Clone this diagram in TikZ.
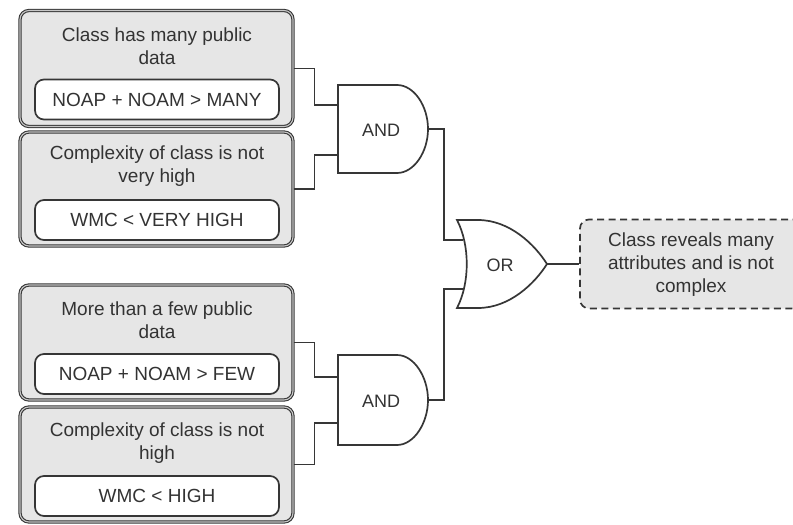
\documentclass[tikz,border=0pt]{standalone}
\usepackage{fontspec}
\setmainfont{Liberation Sans}
\begin{document}
\begin{tikzpicture}[x=1pt,y=-1pt,
  wire/.style={draw=linec, line width=1.7pt},
  outerbox/.style={rectangle, rounded corners=9pt, draw=linec, line width=1.1pt,
    double=gray!45, double distance=1.1pt, fill=boxfill,
    minimum width=273pt, inner sep=0pt},
  innerbox/.style={rectangle, rounded corners=9pt, draw=linec, line width=1.7pt,
    fill=white, minimum width=244pt, minimum height=40pt, inner sep=0pt,
    text=textc, font=\fontsize{19}{23}\selectfont},
  caption/.style={align=center, inner sep=0pt, text=textc,
    font=\fontsize{19}{23}\selectfont},
  gate/.style={draw=linec, line width=1.7pt, fill=white},
  gatelabel/.style={inner sep=0pt, text=textc, font=\fontsize{18}{22}\selectfont},
  resultbox/.style={rectangle, rounded corners=9pt, draw=linec, line width=1.7pt,
    dash pattern=on 7pt off 4.5pt, fill=boxfill, inner sep=0pt,
    minimum width=240pt, minimum height=89pt}
]
\definecolor{linec}{HTML}{363636}
\definecolor{textc}{HTML}{333333}
\definecolor{boxfill}{HTML}{E6E6E6}
\useasboundingbox (0,0) rectangle (793,525);
\clip (0,0) rectangle (793,525);

% condition groups on the left
\node[outerbox, minimum height=116pt] (b1) at (156.5,68.5) {};
\node[caption] (t1) at (157,46.5) {Class has many public\\data};
\node[innerbox] (m1) at (157,99.5) {NOAP + NOAM > MANY};

\node[outerbox, minimum height=114pt] (b2) at (156.5,189) {};
\node[caption] (t2) at (157,166.5) {Complexity of class is not\\very high};
\node[innerbox] (m2) at (157,220) {WMC < VERY HIGH};

\node[outerbox, minimum height=115pt] (b3) at (156.5,342.5) {};
\node[caption] (t3) at (157,320.5) {More than a few public\\data};
\node[innerbox] (m3) at (157,374) {NOAP + NOAM > FEW};

\node[outerbox, minimum height=115pt] (b4) at (156.5,464.5) {};
\node[caption] (t4) at (157,443.5) {Complexity of class is not\\high};
\node[innerbox] (m4) at (157,496) {WMC < HIGH};

% AND gates
\draw[gate] (338,85) -- (397,85) .. controls (414,85) and (428,106) .. (428,129)
  .. controls (428,152) and (414,173) .. (397,173) -- (338,173) -- cycle;
\node[gatelabel] (and1) at (381,130) {AND};
\coordinate (a1i1) at (338,105);
\coordinate (a1i2) at (338,155);
\coordinate (a1o) at (428,129);

\draw[gate] (338,355) -- (397,355) .. controls (414,355) and (428,377) .. (428,400)
  .. controls (428,423) and (414,445) .. (397,445) -- (338,445) -- cycle;
\node[gatelabel] (and2) at (381,401) {AND};
\coordinate (a2i1) at (338,377);
\coordinate (a2i2) at (338,423);
\coordinate (a2o) at (428,400);

% OR gate
\draw[gate] (457,220) -- (478,220) .. controls (510,220) and (535,245) .. (547,264)
  .. controls (535,283) and (510,308) .. (478,308) -- (457,308)
  .. controls (470,283) and (470,245) .. (457,220) -- cycle;
\node[gatelabel] (or) at (500,265) {OR};
\coordinate (oi1) at (463,240);
\coordinate (oi2) at (463,289);
\coordinate (oo) at (547,264);

% result (runs past the right edge)
\node[resultbox] (res) at (700,264) {};
\node[caption] (rt) at (691,265) {Class reveals many\\attributes and is not\\complex};

% wiring
\draw[wire] (b1.east) -- ++(21,0) |- (a1i1);
\draw[wire] (b2.east) -- ++(21,0) |- (a1i2);
\draw[wire] (b3.east) -- ++(21,0) |- (a2i1);
\draw[wire] (b4.east) -- ++(21,0) |- (a2i2);
\draw[wire] (a1o) -- ++(16,0) |- (oi1);
\draw[wire] (a2o) -- ++(16,0) |- (oi2);
\draw[wire] (oo) -- (res.west);
\end{tikzpicture}
\end{document}
